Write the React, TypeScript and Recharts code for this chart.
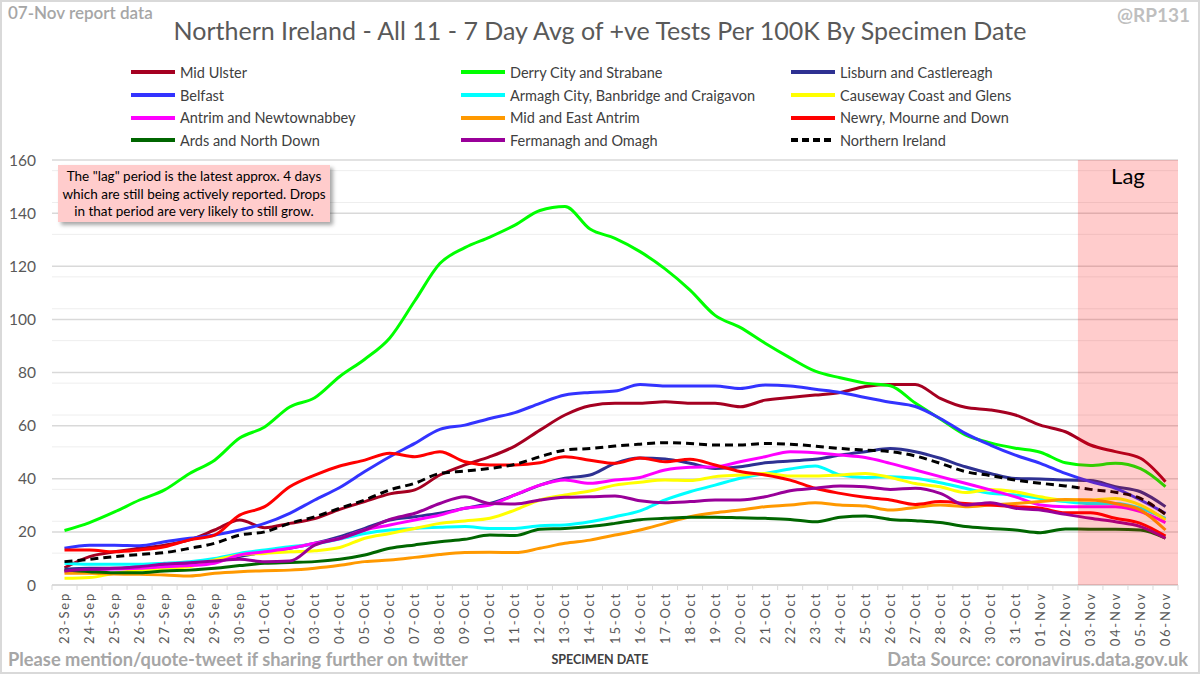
import { LineChart, Line, XAxis, YAxis, CartesianGrid, ReferenceArea } from "recharts";

const dates = [
  "23-Sep", "24-Sep", "25-Sep", "26-Sep", "27-Sep", "28-Sep", "29-Sep", "30-Sep",
  "01-Oct", "02-Oct", "03-Oct", "04-Oct", "05-Oct", "06-Oct", "07-Oct", "08-Oct", "09-Oct", "10-Oct",
  "11-Oct", "12-Oct", "13-Oct", "14-Oct", "15-Oct", "16-Oct", "17-Oct", "18-Oct", "19-Oct", "20-Oct",
  "21-Oct", "22-Oct", "23-Oct", "24-Oct", "25-Oct", "26-Oct", "27-Oct", "28-Oct", "29-Oct", "30-Oct",
  "31-Oct", "01-Nov", "02-Nov", "03-Nov", "04-Nov", "05-Nov", "06-Nov",
];

const lagDays = ["03-Nov", "04-Nov", "05-Nov", "06-Nov"];

const midUlster = [6.5, 10.7, 12.5, 13.8, 15, 17, 20.7, 24.5, 21.6, 23.2, 25, 28.5, 31.4, 34.3, 35.8, 41.4, 45.2, 48.3, 52.3, 58.3, 64, 67.5, 68.4, 68.4, 69, 68.4, 68.4, 67.1, 69.6, 70.6, 71.5, 72.5, 74.7, 75.5, 75.5, 70.3, 66.9, 65.9, 64, 60.2, 57.7, 52.7, 50.2, 47.7, 38.9];
const derry = [20.5, 23.5, 27.5, 32, 35.8, 42, 47, 55.3, 59.5, 67, 70.5, 78.5, 85, 93, 107, 121, 127, 131, 135.5, 141, 142.5, 134, 130.5, 125.5, 119, 111, 101.5, 97, 91, 85.5, 80.5, 78, 76, 75, 68.5, 62.5, 56.5, 53.5, 51.5, 50, 46, 45, 45.8, 43.8, 37];
const lisburn = [5.9, 6.3, 6.3, 6.9, 7.3, 8.2, 9.2, 10.7, 12.5, 13.8, 15.7, 18.2, 21.3, 24.5, 25.7, 27, 28.9, 30.7, 33.9, 37.6, 40.2, 41.4, 45.8, 47.8, 47.4, 45.8, 43.9, 44.5, 46, 46.7, 47.3, 48.9, 50.2, 51.4, 50.2, 47.7, 44.5, 42, 40.1, 39.9, 39.5, 39.3, 37, 35.1, 29.5];
const belfast = [13.8, 15, 15, 14.8, 16.3, 17.6, 18.8, 20.7, 23.2, 27, 32, 36.7, 42.7, 48.3, 53.3, 58.6, 60.2, 62.7, 64.9, 68.4, 71.5, 72.5, 73, 75.5, 74.9, 74.9, 74.9, 74, 75.3, 74.9, 73.7, 72.5, 70.6, 68.8, 67.2, 62.7, 57.1, 52.7, 48.9, 45.8, 42, 38.9, 36.4, 32, 27];
const armagh = [8.2, 7.8, 7.8, 7.8, 8.2, 8.8, 10, 11.9, 13.2, 14.4, 15.4, 17.3, 19.4, 20.7, 21.3, 21.7, 22, 21.3, 21.3, 22.3, 22.6, 23.8, 25.7, 27.9, 32, 35.1, 37.6, 40.2, 42, 43.7, 44.8, 41.4, 40.5, 40.8, 40.2, 38.5, 36.4, 34.5, 33.9, 32.6, 31.4, 30.7, 30.7, 28.9, 25.1];
const causeway = [2.5, 2.8, 4.4, 5.6, 6.3, 6.9, 9.4, 11.3, 11.9, 12.5, 12.9, 14.1, 17.6, 19.4, 21.3, 23.2, 24.1, 25.1, 28.2, 32, 33.9, 35.4, 37.6, 38.7, 39.5, 39.3, 40.8, 41.4, 42, 41, 41, 41.4, 42, 40.5, 38.2, 37, 34.8, 36, 35.1, 33.2, 32, 32, 32.6, 30.1, 24.5];
const antrim = [5, 5.6, 6, 6.3, 6.9, 7.3, 8.2, 11.3, 12.5, 13.8, 15.7, 17.5, 20.7, 22.6, 24.5, 26.3, 28.9, 30.1, 33.9, 37.6, 39.5, 38.3, 39.5, 40.5, 43.3, 44.3, 44.5, 46.4, 48.3, 50.2, 49.8, 48.9, 48, 45.8, 43.3, 40.8, 38.3, 35.8, 33.2, 30.1, 29.5, 29.5, 29.5, 27.6, 23.5];
const midEast = [4.4, 4.4, 4.1, 4, 3.8, 3.4, 4.4, 5, 5.4, 5.6, 6.3, 7.4, 8.8, 9.4, 10.4, 11.5, 12.2, 12.3, 12.2, 13.8, 15.7, 16.9, 18.8, 20.7, 23.2, 25.7, 27.2, 28.2, 29.5, 30.1, 31, 30.1, 29.7, 28.2, 29.2, 30.1, 29.5, 30.1, 30.7, 31.4, 32.2, 32, 30.7, 28.2, 20.7];
const newry = [13.2, 13.2, 12.5, 13.2, 14.4, 17, 18.8, 26.3, 29.5, 37, 41.4, 44.8, 47, 49.6, 48.3, 50.2, 46.4, 45.2, 45.2, 46, 48.3, 47, 45.8, 47.8, 46.4, 47.3, 45.2, 42.7, 41.4, 39.5, 36.4, 34.5, 33, 32, 30.3, 31.4, 30.7, 30.1, 29.5, 28.9, 27.2, 27.2, 25.1, 23.2, 18.4];
const ards = [5.6, 5, 4.6, 4.6, 5.3, 5.6, 6.3, 7.3, 8.2, 8.5, 8.8, 9.7, 11.3, 13.8, 15.1, 16.3, 17.2, 18.8, 18.6, 21, 21.3, 22, 23.2, 24.6, 25.1, 25.5, 25.5, 25.3, 25.1, 24.7, 23.8, 25.5, 26, 24.7, 24.2, 23.5, 22, 21.3, 20.7, 19.7, 21.1, 21, 21, 20.7, 17.6];
const fermanagh = [5.3, 5.9, 6.3, 6.9, 7.9, 8.4, 9, 9.7, 8.8, 9, 15, 17.5, 20.7, 24.7, 27, 30.7, 33.2, 30.7, 30.5, 32, 33, 33.2, 33.5, 31.7, 31, 31.4, 32, 32, 33.2, 35.5, 36.4, 37.3, 37, 36, 36.4, 34.5, 30.1, 31, 28.9, 28.2, 26.6, 25.1, 23.8, 22, 17.6];
const northernIreland = [8.8, 9.7, 10.7, 11.5, 12.2, 13.8, 15.7, 18.8, 20, 23.2, 25.7, 28.9, 32, 35.8, 38.3, 42, 42.9, 43.9, 45.4, 48.3, 50.8, 51.4, 52.3, 53, 53.6, 53.3, 52.7, 52.7, 53.3, 53, 52.3, 51.4, 50.8, 50.2, 48.6, 45.8, 42.7, 41.2, 39.5, 38.3, 37.3, 36, 34.9, 32.6, 26.6];

const series = [
  { key: "midUlster", name: "Mid Ulster", color: "#a50021", values: midUlster },
  { key: "derry", name: "Derry City and Strabane", color: "#00ff00", values: derry },
  { key: "lisburn", name: "Lisburn and Castlereagh", color: "#2e3192", values: lisburn },
  { key: "belfast", name: "Belfast", color: "#3333ff", values: belfast },
  { key: "armagh", name: "Armagh City, Banbridge and Craigavon", color: "#00ffff", values: armagh },
  { key: "causeway", name: "Causeway Coast and Glens", color: "#ffff00", values: causeway },
  { key: "antrim", name: "Antrim and Newtownabbey", color: "#ff00ff", values: antrim },
  { key: "midEast", name: "Mid and East Antrim", color: "#ff9900", values: midEast },
  { key: "newry", name: "Newry, Mourne and Down", color: "#ff0000", values: newry },
  { key: "ards", name: "Ards and North Down", color: "#006600", values: ards },
  { key: "fermanagh", name: "Fermanagh and Omagh", color: "#990099", values: fermanagh },
  { key: "ni", name: "Northern Ireland", color: "#000000", values: northernIreland, dashed: true },
];

const yTicks = [0, 20, 40, 60, 80, 100, 120, 140, 160];
const minorTicks = [4, 8, 12, 16, 24, 28, 32, 36, 44, 48, 52, 56, 64, 68, 72, 76, 84, 88, 92, 96, 104, 108, 112, 116, 124, 128, 132, 136, 144, 148, 152, 156];

const rows = dates.map((date, i) => {
  const row: Record<string, number | string> = { idx: i, date };
  series.forEach((s) => (row[s.key] = s.values[i]));
  return row;
});

const FONT = "Lato, 'Open Sans', sans-serif";
const W = 1200;
const H = 674;
const PLOT_LEFT = 52;
const PLOT_RIGHT = 1178;
const BAND = (PLOT_RIGHT - PLOT_LEFT) / dates.length;

function DateTick(props: any) {
  const { x, y, payload, index } = props;
  return (
    <g transform={`translate(${x},${y})`}>
      <line x1={-BAND / 2} x2={-BAND / 2} y1={0} y2={5} stroke="#d9d9d9" />
      {index === dates.length - 1 && <line x1={BAND / 2} x2={BAND / 2} y1={0} y2={5} stroke="#d9d9d9" />}
      <text
        transform="rotate(-90)"
        x={-7}
        y={0}
        dy={4.5}
        textAnchor="end"
        fill="#595959"
        fontSize={13}
        letterSpacing={1.8}
        fontFamily={FONT}
      >
        {dates[payload.value]}
      </text>
    </g>
  );
}

function LegendBlock() {
  return (
    <div style={{ position: "absolute", left: 130, top: 61, width: 1000, display: "grid", gridTemplateColumns: "330px 330px 330px" }}>
      {series.map((s) => (
        <div key={s.key} style={{ display: "flex", alignItems: "center", height: 22.7 }}>
          <svg width={46} height={8} style={{ marginRight: 4 }}>
            <line x1={1} x2={45} y1={4} y2={4} stroke={s.color} strokeWidth={4} strokeDasharray={s.dashed ? "7 4" : undefined} />
          </svg>
          <span style={{ fontSize: 14.5, color: "#404040", fontFamily: FONT, whiteSpace: "nowrap" }}>{s.name}</span>
        </div>
      ))}
    </div>
  );
}

export default function App() {
  const lagStart = dates.indexOf(lagDays[0]) - 0.5;
  const lagEnd = dates.indexOf(lagDays[lagDays.length - 1]) + 0.5;
  return (
    <div style={{ position: "relative", width: W, height: H, background: "#fff", fontFamily: FONT, overflow: "hidden" }}>
      <style>{`body{margin:0}`}</style>
      <LineChart width={W} height={H} data={rows} margin={{ top: 160, right: W - PLOT_RIGHT, bottom: 29, left: 0 }}>
        <CartesianGrid vertical={false} horizontalValues={minorTicks} stroke="#eeeeee" strokeWidth={1} />
        <CartesianGrid vertical={false} stroke="#d9d9d9" strokeWidth={1.5} />
        <XAxis
          dataKey="idx"
          type="number"
          domain={[-0.5, dates.length - 0.5]}
          ticks={dates.map((_, i) => i)}
          interval={0}
          height={60}
          tickSize={0}
          tickMargin={0}
          tickLine={false}
          tick={<DateTick />}
          axisLine={{ stroke: "#d9d9d9", strokeWidth: 1.5 }}
          allowDataOverflow
        />
        <YAxis
          domain={[0, 160]}
          ticks={yTicks}
          width={PLOT_LEFT}
          axisLine={false}
          tickLine={false}
          tickMargin={10}
          tick={{ fill: "#595959", fontSize: 15.5, fontFamily: FONT }}
        />
        {series.map((s) => (
          <Line
            key={s.key}
            type="monotone"
            dataKey={s.key}
            name={s.name}
            stroke={s.color}
            strokeWidth={3}
            strokeDasharray={s.dashed ? "8 5" : undefined}
            dot={false}
            isAnimationActive={false}
          />
        ))}
        <ReferenceArea
          x1={lagStart}
          x2={lagEnd}
          y1={0}
          y2={160}
          fill="#ff0000"
          fillOpacity={0.2}
          stroke="none"
          zIndex={1500}
          label={{ value: "Lag", position: "insideTop", offset: 8, fill: "#000", fontSize: 22, fontFamily: FONT }}
        />
      </LineChart>

      <div style={{ position: "absolute", left: 8, top: 2, fontSize: 17, color: "#a6a6a6", fontWeight: 600 }}>07-Nov report data</div>
      <div style={{ position: "absolute", left: 0, width: W, top: 15, textAlign: "center", fontSize: 25, color: "#595959" }}>
        Northern Ireland - All 11 - 7 Day Avg of +ve Tests Per 100K By Specimen Date
      </div>
      <div style={{ position: "absolute", right: 10, top: 3, fontSize: 19, color: "#bfbfbf", fontWeight: 700 }}>@RP131</div>
      <LegendBlock />

      <div
        style={{
          position: "absolute",
          left: 58,
          top: 165,
          width: 272,
          height: 57,
          background: "#ffcccc",
          boxShadow: "3px 3px 4px rgba(0,0,0,0.35)",
          textAlign: "center",
          fontSize: 13.5,
          lineHeight: "17.5px",
          color: "#000",
          paddingTop: 3,
          boxSizing: "border-box",
        }}
      >
        The "lag" period is the latest approx. 4 days which are still being actively reported. Drops in that period are very likely to still grow.
      </div>

      <div style={{ position: "absolute", left: 8, top: 648, fontSize: 18.3, color: "#a6a6a6", fontWeight: 700 }}>
        Please mention/quote-tweet if sharing further on twitter
      </div>
      <div style={{ position: "absolute", left: 0, width: W, top: 652, textAlign: "center", fontSize: 12.5, color: "#404040", fontWeight: 700 }}>
        SPECIMEN DATE
      </div>
      <div style={{ position: "absolute", right: 12, top: 648, fontSize: 18.3, color: "#a6a6a6", fontWeight: 700 }}>
        Data Source: coronavirus.data.gov.uk
      </div>
      <div style={{ position: "absolute", inset: 0, border: "2px solid #d9d9d9", pointerEvents: "none" }} />
    </div>
  );
}
